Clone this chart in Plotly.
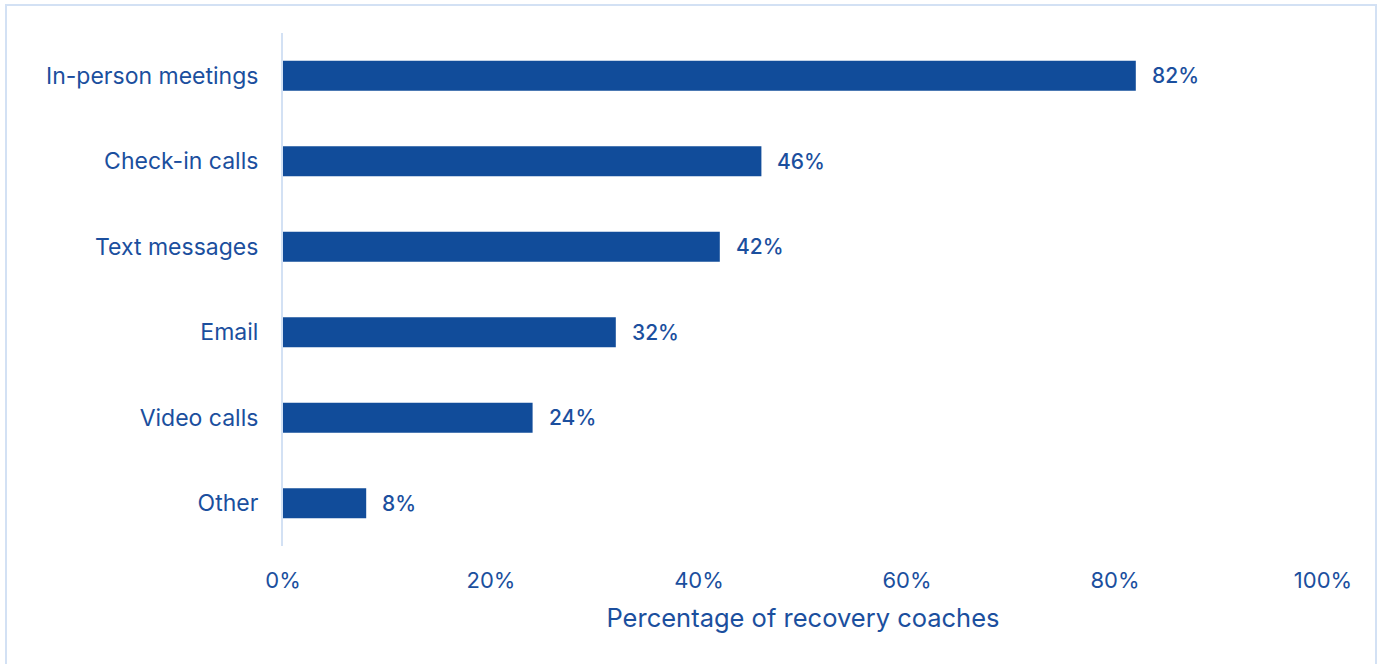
import plotly.graph_objects as go

# Survey results: how recovery coaches keep in touch
categories = ["In-person meetings", "Check-in calls", "Text messages", "Email", "Video calls", "Other"]
values = [82, 46, 42, 32, 24, 8]
tick_values = [0, 20, 40, 60, 80, 100]
tick_labels = ["0%", "20%", "40%", "60%", "80%", "100%"]

BAR = "#114c9a"
TEXT = "#1b4f9e"
EDGE = "#d3e1f4"
FONT = "Inter"

W, H = 1377, 664
L, R, T, B = 283, 54, 33, 118

fig = go.Figure(
    go.Bar(
        x=values,
        y=categories,
        orientation="h",
        marker=dict(color=BAR, line=dict(width=0)),
        width=0.35,
        hoverinfo="skip",
    )
)

# value labels just past the end of each bar
for cat, v in zip(categories, values):
    fig.add_annotation(
        x=v, y=cat, text=f"{v}%", showarrow=False,
        xanchor="left", yanchor="middle", xshift=14,
        font=dict(family=FONT, size=21, color=TEXT, weight=500),
    )

pw, ph = W - L - R, H - T - B
fig.add_shape(
    type="rect", xref="paper", yref="paper",
    x0=(6 - L) / pw, x1=(W - 1 - L) / pw,
    y0=-(H + 10 - (H - B)) / ph, y1=1 + (T - 5) / ph,
    line=dict(color=EDGE, width=2), fillcolor="rgba(0,0,0,0)", layer="below",
)

fig.update_layout(
    width=W, height=H,
    margin=dict(l=L, r=R, t=T, b=B),
    paper_bgcolor="white", plot_bgcolor="white",
    showlegend=False,
    font=dict(family=FONT, color=TEXT),
    bargap=0.65,
    xaxis=dict(
        range=[0, 100],
        tickvals=tick_values, ticktext=tick_labels,
        showgrid=False, zeroline=False, showline=False,
        tickfont=dict(size=22, color=TEXT),
        ticklabelstandoff=19,
        title=dict(text="Percentage of recovery coaches", font=dict(size=25.5, color=TEXT), standoff=17),
        fixedrange=True,
    ),
    yaxis=dict(
        categoryorder="array", categoryarray=categories[::-1],
        showgrid=False, zeroline=False,
        showline=True, linecolor=EDGE, linewidth=2,
        tickfont=dict(size=23, color=TEXT),
        ticklabelstandoff=18,
        fixedrange=True,
    ),
)

fig.write_html("out.html")
